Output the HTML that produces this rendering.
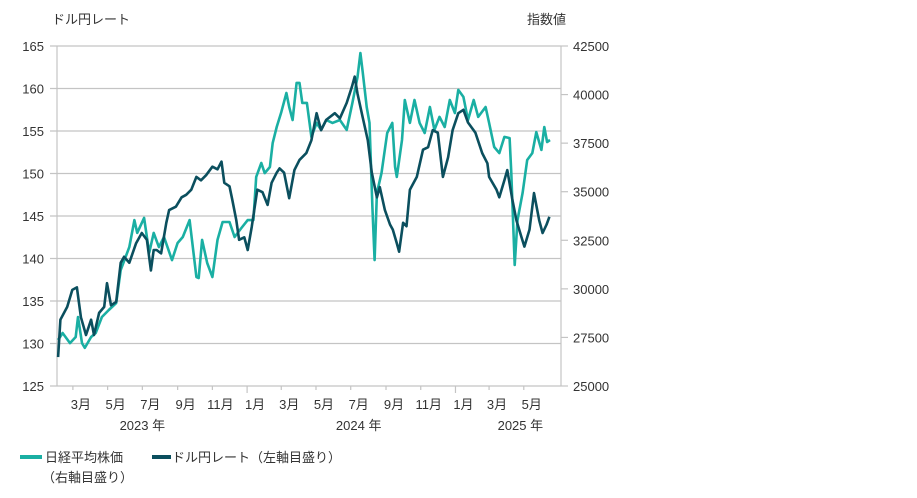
<!DOCTYPE html>
<html><head><meta charset="utf-8">
<style>
body{margin:0;background:#fff;}
svg text{font-family:"Liberation Sans","Noto Sans CJK JP",sans-serif;fill:#333;font-size:13px;}
</style></head>
<body>
<svg id="chart" width="917" height="493" viewBox="0 0 917 493" xmlns="http://www.w3.org/2000/svg">
<g id="grid"></g>
<g id="axes"></g>
<g id="series"></g>
<text x="52" y="24">ドル円レート</text>
<text x="527" y="24">指数値</text>
<g>
<g>
<rect x="20" y="455" width="22" height="4" fill="#1aafa3"/>
<text x="45" y="462">日経平均株価</text>
<text x="42" y="482">（右軸目盛り）</text>
</g>
<g>
<rect x="152" y="455" width="19" height="4" fill="#0b4f5e"/>
<text x="172" y="462">ドル円レート（左軸目盛り）</text>
</g>
</g>
</svg>
<script>
const leftTicks = [125,130,135,140,145,150,155,160,165];
const rightTicks = [25000,27500,30000,32500,35000,37500,40000,42500];
const monthLabels = ["3月","5月","7月","9月","11月","1月","3月","5月","7月","9月","11月","1月","3月","5月"];
const monthLabelDates = ["2023-03-15","2023-05-15","2023-07-15","2023-09-15","2023-11-15","2024-01-15","2024-03-15","2024-05-15","2024-07-15","2024-09-15","2024-11-15","2025-01-15","2025-03-15","2025-05-15"];
const yearLabels = ["2023 年","2024 年","2025 年"];
const yearLabelDates = ["2023-07-01","2024-07-15","2025-04-25"];

const usdDates = ["2023-02-03","2023-02-07","2023-02-19","2023-02-28","2023-03-08","2023-03-15","2023-03-24","2023-04-02","2023-04-07","2023-04-16","2023-04-25","2023-04-30","2023-05-07","2023-05-16","2023-05-24","2023-05-30","2023-06-08","2023-06-20","2023-06-30","2023-07-09","2023-07-16","2023-07-21","2023-07-26","2023-08-03","2023-08-12","2023-08-17","2023-08-29","2023-09-08","2023-09-16","2023-09-25","2023-10-04","2023-10-12","2023-10-21","2023-11-01","2023-11-10","2023-11-17","2023-11-22","2023-12-01","2023-12-06","2023-12-13","2023-12-18","2023-12-27","2024-01-02","2024-01-09","2024-01-19","2024-01-28","2024-02-06","2024-02-13","2024-02-22","2024-02-27","2024-03-06","2024-03-15","2024-03-24","2024-04-02","2024-04-14","2024-04-23","2024-05-02","2024-05-10","2024-05-19","2024-06-03","2024-06-12","2024-06-24","2024-07-03","2024-07-08","2024-07-13","2024-07-22","2024-07-31","2024-08-07","2024-08-16","2024-08-21","2024-08-30","2024-09-08","2024-09-13","2024-09-20","2024-09-24","2024-10-01","2024-10-07","2024-10-13","2024-10-25","2024-11-05","2024-11-14","2024-11-22","2024-12-01","2024-12-10","2024-12-19","2024-12-27","2025-01-06","2025-01-15","2025-01-23","2025-02-05","2025-02-17","2025-02-26","2025-03-01","2025-03-14","2025-03-19","2025-03-28","2025-04-02","2025-04-11","2025-04-18","2025-04-27","2025-05-02","2025-05-11","2025-05-19","2025-05-28","2025-06-03","2025-06-10","2025-06-15"];
const usdValues = [128.4,132.8,134.3,136.3,136.6,133.1,131.0,132.8,131.0,133.6,134.3,137.1,134.5,134.9,139.5,140.2,139.5,141.8,143.0,142.2,138.6,141.0,141.0,140.6,144.2,145.7,146.1,147.2,147.5,148.1,149.6,149.2,149.8,150.8,150.5,151.4,148.9,148.5,146.9,144.5,142.2,142.5,141.0,143.7,148.1,147.8,146.3,148.9,150.1,150.6,150.1,147.1,150.4,151.6,152.4,153.9,157.1,155.1,156.3,157.1,156.5,158.3,160.2,161.4,159.4,156.6,153.9,150.1,147.2,148.4,145.7,144.0,143.4,141.8,140.8,144.2,143.8,148.1,149.6,152.8,153.1,155.1,154.8,149.6,151.9,155.1,157.1,157.5,156.0,154.8,152.4,151.2,149.6,148.1,147.2,149.2,150.4,146.9,144.5,142.5,141.4,143.4,147.7,144.5,143.0,144.0,144.9];

const nkDates = ["2023-02-03","2023-02-11","2023-02-24","2023-03-06","2023-03-10","2023-03-17","2023-03-22","2023-04-02","2023-04-10","2023-04-21","2023-05-03","2023-05-16","2023-05-24","2023-06-08","2023-06-17","2023-06-22","2023-07-04","2023-07-13","2023-07-21","2023-07-30","2023-08-08","2023-08-22","2023-09-01","2023-09-10","2023-09-22","2023-10-04","2023-10-08","2023-10-14","2023-10-23","2023-11-01","2023-11-10","2023-11-19","2023-12-01","2023-12-10","2023-12-22","2024-01-02","2024-01-12","2024-01-17","2024-01-26","2024-02-01","2024-02-10","2024-02-15","2024-02-22","2024-03-01","2024-03-10","2024-03-15","2024-03-21","2024-03-28","2024-04-02","2024-04-07","2024-04-15","2024-04-23","2024-05-02","2024-05-10","2024-05-19","2024-05-30","2024-06-12","2024-06-24","2024-07-04","2024-07-13","2024-07-18","2024-07-22","2024-07-29","2024-08-03","2024-08-08","2024-08-12","2024-08-16","2024-08-24","2024-09-03","2024-09-12","2024-09-17","2024-09-20","2024-09-29","2024-10-04","2024-10-13","2024-10-21","2024-10-30","2024-11-08","2024-11-17","2024-11-25","2024-12-04","2024-12-13","2024-12-22","2024-12-31","2025-01-06","2025-01-15","2025-01-23","2025-02-02","2025-02-10","2025-02-23","2025-03-01","2025-03-10","2025-03-19","2025-03-28","2025-04-06","2025-04-09","2025-04-15","2025-04-20","2025-04-29","2025-05-07","2025-05-16","2025-05-23","2025-06-01","2025-06-06","2025-06-11","2025-06-16"];
const nkValues = [27370,27730,27210,27520,28550,27210,26960,27520,27730,28550,28910,29270,30970,32150,33540,32880,33650,31850,32880,32150,32670,31480,32360,32670,33540,30610,30560,32520,31330,30610,32520,33440,33440,32670,33130,33540,33540,35760,36480,35960,36270,37510,38330,39100,40080,39360,38690,40600,40600,39570,39570,37820,38540,38180,38690,38540,38690,38180,39570,40900,42140,41160,39360,38540,34210,31480,34940,35960,38020,38540,36270,35760,37660,39720,38540,39720,38540,38020,39360,38180,38850,38330,39720,39050,40240,39880,38690,39720,38850,39360,38540,37300,36990,37820,37760,35960,31230,33540,34940,36630,36990,38070,37150,38330,37560,37660];

const NS="http://www.w3.org/2000/svg";
const X0=57, X1=561, YT=46, YB=386;
const BASE=Date.UTC(2023,0,1);
function xScale(d){const p=d.split("-").map(Number);const days=(Date.UTC(p[0],p[1]-1,p[2])-BASE)/86400000;return 39.3+days/30.44*17.33;}
function yLeft(v){return YT+(165-v)*(YB-YT)/40;}
function yRight(v){return YT+(42500-v)*(YB-YT)/17500;}
function mk(tag,attrs,parent){const e=document.createElementNS(NS,tag);for(const k in attrs)e.setAttribute(k,attrs[k]);parent.appendChild(e);return e;}
const grid=document.getElementById("grid"),axes=document.getElementById("axes"),series=document.getElementById("series");

leftTicks.forEach(t=>{const y=yLeft(t);
 const g=mk("line",{x1:50,x2:X1,y1:y,y2:y,stroke:"#c4c4c4","stroke-width":1.2},grid);
 
 
 const tx=mk("text",{x:44,y:y+5,"text-anchor":"end"},axes);tx.textContent=t;
 
 
});
rightTicks.forEach(t=>{const y=yRight(t);
 const tk=mk("line",{x1:X1,x2:568,y1:y,y2:y,stroke:"#c4c4c4","stroke-width":1.2},axes);
 
 
 const tx=mk("text",{x:573,y:y+5},axes);tx.textContent=t;
 
 
});
const la=mk("line",{x1:X0,x2:X0,y1:YT,y2:YB,stroke:"#c4c4c4","stroke-width":1.2},axes);


const ra=mk("line",{x1:X1,x2:X1,y1:YT,y2:YB,stroke:"#c4c4c4","stroke-width":1.2},axes);


const tickMonths=["2023-03-01","2023-05-01","2023-07-01","2023-09-01","2023-11-01","2024-01-01","2024-03-01","2024-05-01","2024-07-01","2024-09-01","2024-11-01","2025-01-01","2025-03-01","2025-05-01"];
tickMonths.forEach(d=>{const x=xScale(d);const long=d.endsWith("01-01");
 const tk=mk("line",{x1:x,x2:x,y1:YB,y2:YB+(long?7:4),stroke:"#c4c4c4","stroke-width":1.2},axes);
 
 
});
monthLabels.forEach((m,i)=>{const tx=mk("text",{x:xScale(monthLabelDates[i]),y:409,"text-anchor":"middle"},axes);tx.textContent=m;
 
 
});
yearLabels.forEach((m,i)=>{const tx=mk("text",{x:xScale(yearLabelDates[i]),y:430,"text-anchor":"middle"},axes);tx.textContent=m;
 
 
});
function line(dates,vals,ys,color,name){
 const d=dates.map((t,i)=>(i?"L":"M")+xScale(t).toFixed(1)+" "+ys(vals[i]).toFixed(1)).join(" ");
 const p=mk("path",{d:d,fill:"none",stroke:color,"stroke-width":2.6,"stroke-linejoin":"round"},series);
 
 
}
line(nkDates,nkValues,yRight,"#1aafa3","nikkei-line");
line(usdDates,usdValues,yLeft,"#0b4f5e","usdjpy-line");
</script>
</body></html>
